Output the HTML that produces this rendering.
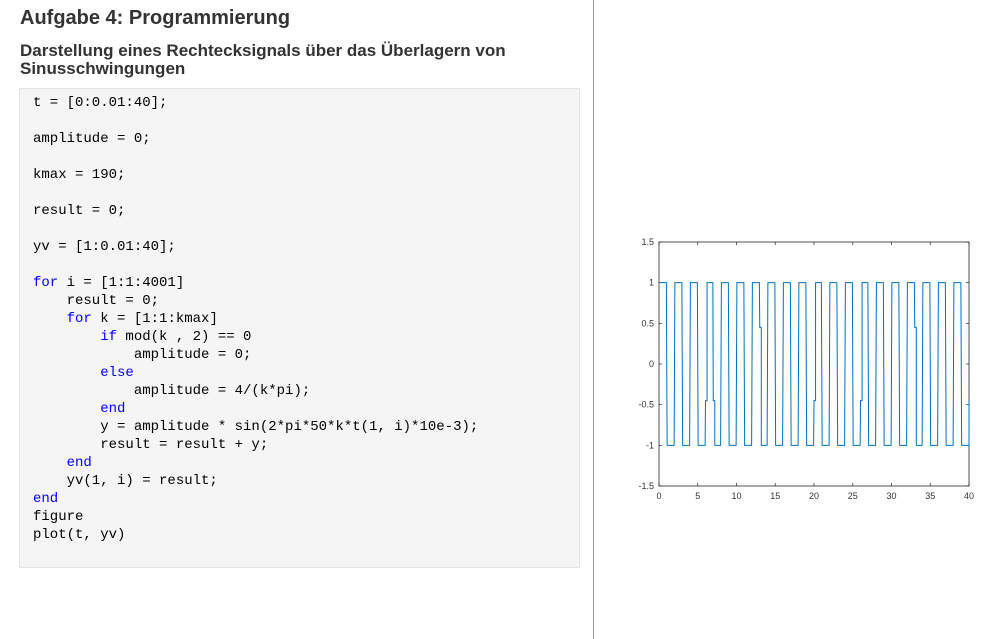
<!DOCTYPE html>
<html><head><meta charset="utf-8">
<style>
body{margin:0;width:1003px;height:639px;background:#fff;font-family:"Liberation Sans",sans-serif;position:relative;overflow:hidden}
h1{position:absolute;left:20px;top:7px;margin:0;font-size:20px;font-weight:bold;color:#333}
h2{position:absolute;left:20px;top:42px;margin:0;font-size:17px;line-height:18px;font-weight:bold;color:#333;width:560px}
#code{position:absolute;left:19px;top:88px;width:559px;height:478px;background:#f5f5f5;border:1px solid #e3e3e3;border-radius:2px}
pre{margin:0;position:absolute;left:13px;top:5px;font-family:"Liberation Mono",monospace;font-size:14px;line-height:18px;color:#000}
.k{color:#0000ff}
#div{position:absolute;left:593px;top:0;width:1px;height:639px;background:#999}
svg{position:absolute;left:0;top:0}
</style></head><body>
<h1>Aufgabe 4: Programmierung</h1>
<h2>Darstellung eines Rechtecksignals über das Überlagern von Sinusschwingungen</h2>
<div id="code"><pre>t = [0:0.01:40];

amplitude = 0;

kmax = 190;

result = 0;

yv = [1:0.01:40];

<span class="k">for</span> i = [1:1:4001]
    result = 0;
    <span class="k">for</span> k = [1:1:kmax]
        <span class="k">if</span> mod(k , 2) == 0
            amplitude = 0;
        <span class="k">else</span>
            amplitude = 4/(k*pi);
        <span class="k">end</span>
        y = amplitude * sin(2*pi*50*k*t(1, i)*10e-3);
        result = result + y;
    <span class="k">end</span>
    yv(1, i) = result;
<span class="k">end</span>
figure
plot(t, yv)</pre></div>
<div id="div"></div>
<svg id="chart" width="1003" height="639"></svg>
<script>
const xTicks=[0,5,10,15,20,25,30,35,40];
const yTicks=[1.5,1,0.5,0,-0.5,-1,-1.5];
const levels=[1,-1,1,-1,1,-1,1,-1,1,-1,1,-1,1,-1,1,-1,1,-1,1,-1,1,-1,1,-1,1,-1,1,-1,1,-1,1,-1,1,-1,1,-1,1,-1,1,-1];
const glitchT=[6,7,13,20,26,33,40];
const glitchY=[-0.45,-0.45,0.45,-0.45,-0.45,0.45,-0.45];
const X0=659,X1=969,Y0=242,Y1=486;
const sx=v=>X0+(v-0)/(40-0)*(X1-X0);
const sy=v=>Y0+(1.5-v)/3*(Y1-Y0);
const svg=document.getElementById('chart');const NS='http://www.w3.org/2000/svg';
function mk(t,a,p){const e=document.createElementNS(NS,t);for(const k in a)e.setAttribute(k,a[k]);(p||svg).appendChild(e);return e;}
const frame=mk('rect',{x:X0,y:Y0,width:X1-X0,height:Y1-Y0,fill:'#fff',stroke:'#262626','stroke-width':0.8});


xTicks.forEach(v=>{
  mk('line',{x1:sx(v),x2:sx(v),y1:Y1,y2:Y1-3,stroke:'#262626','stroke-width':0.7});
  mk('line',{x1:sx(v),x2:sx(v),y1:Y0,y2:Y0+3,stroke:'#262626','stroke-width':0.7});
  const t=mk('text',{x:sx(v),y:Y1+13,'font-size':9,'text-anchor':'middle',fill:'#333','font-family':'Liberation Sans, sans-serif'});t.textContent=v;
  
  
});
yTicks.forEach(v=>{
  mk('line',{x1:X0,x2:X0+3,y1:sy(v),y2:sy(v),stroke:'#262626','stroke-width':0.7});
  mk('line',{x1:X1,x2:X1-3,y1:sy(v),y2:sy(v),stroke:'#262626','stroke-width':0.7});
  const t=mk('text',{x:X0-5,y:sy(v)+3,'font-size':9,'text-anchor':'end',fill:'#333','font-family':'Liberation Sans, sans-serif'});t.textContent=v;
  
  
});
let d='';
levels.forEach((lv,i)=>{
  let gs=glitchT.indexOf(i);
  let start=i+0.05;
  if(gs>=0&&i>0){d+=`L${sx(i)},${sy(glitchY[gs])}L${sx(i+0.2)},${sy(glitchY[gs])}`;start=i+0.2;}
  d+=(i==0?'M':'L')+`${sx(i==0?0:start)},${sy(lv)}L${sx(i+0.95)},${sy(lv)}`;
});
const ge=glitchT.indexOf(40);
d+=`L${sx(40)},${sy(levels[39])}`;
if(ge>=0)d+=`L${sx(40)},${sy(glitchY[ge])}`;
const p=mk('path',{d:d,fill:'none',stroke:'#0072BD','stroke-width':1});


</script>
</body></html>
